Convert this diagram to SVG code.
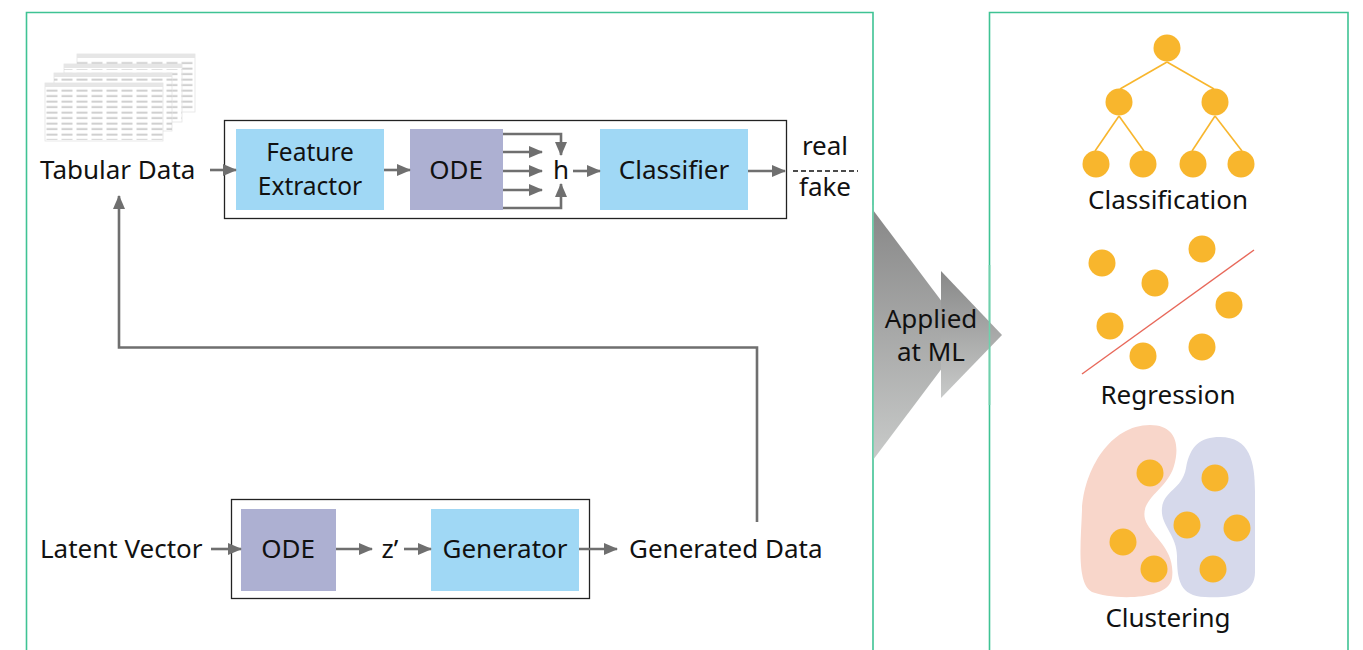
<svg xmlns="http://www.w3.org/2000/svg" width="1363" height="650" viewBox="0 0 1363 650">
  <defs>
    <style>
      .panel { fill: none; stroke: #3fc394; stroke-width: 1.6; }
      .frame { fill: none; stroke: #222; stroke-width: 1.3; }
      .blue { fill: #a0d8f5; }
      .ode { fill: #adb0d2; }
      .lbl { font-family: "Noto Sans", "Liberation Sans", sans-serif; font-size: 26px; fill: #111; }
      .two { font-size: 24.5px; }
      .mid { text-anchor: middle; }
      .wire { fill: none; stroke: #6f6f6f; stroke-width: 2.6; }
      .dot { fill: #f8b62d; }
      .branch { stroke: #f8b62d; stroke-width: 1.6; }
      .sheet { fill: #fff; stroke: #e4e4e4; stroke-width: 0.8; }
    </style>
    <marker id="head" markerWidth="14" markerHeight="12" refX="13" refY="6" orient="auto" markerUnits="userSpaceOnUse">
      <path d="M0,0 L14,6 L0,12 Z" fill="#6f6f6f"/>
    </marker>
    <linearGradient id="shade" x1="0" y1="0" x2="0" y2="1">
      <stop offset="0" stop-color="#888888"/>
      <stop offset="1" stop-color="#c8cac9"/>
    </linearGradient>
    <pattern id="cells" x="0" y="0" width="15" height="5.5" patternUnits="userSpaceOnUse">
      <rect x="1.5" y="1.6" width="11" height="2" fill="#cfcfcf"/>
    </pattern>
  </defs>

  <!-- panels -->
  <path class="panel" d="M26.5,650 V12.5 H873 V650"/>
  <path class="panel" d="M989.5,650 V12.5 H1348 V650"/>

  <!-- transfer chevrons -->
  <g id="applied">
    <polygon points="873,210 967,335 873,460" fill="url(#shade)"/>
    <polygon points="941,271 1002,335 941,398" fill="url(#shade)"/>
    <line x1="873" y1="205" x2="873" y2="470" stroke="#6fd0ac" stroke-width="1.6"/>
    <line x1="989.5" y1="265" x2="989.5" y2="405" stroke="#6fd0ac" stroke-width="1.6"/>
    <text class="lbl mid" x="931" y="328">Applied</text>
    <text class="lbl mid" x="931" y="361">at ML</text>
  </g>

  <!-- stacked table sheets -->
  <g id="tabular-data">
    <g>
      <rect class="sheet" x="77" y="54" width="118" height="58"/>
      <rect x="77" y="54" width="118" height="4" fill="#e6e6e6"/>
      <rect x="77" y="59" width="118" height="52" fill="url(#cells)"/>
    </g>
    <g>
      <rect class="sheet" x="64" y="64" width="118" height="58"/>
      <rect x="64" y="64" width="118" height="4" fill="#e6e6e6"/>
      <rect x="64" y="69" width="118" height="52" fill="url(#cells)"/>
    </g>
    <g>
      <rect class="sheet" x="54" y="73" width="118" height="58"/>
      <rect x="54" y="73" width="118" height="4" fill="#e6e6e6"/>
      <rect x="54" y="78" width="118" height="52" fill="url(#cells)"/>
    </g>
    <g>
      <rect class="sheet" x="45" y="83" width="118" height="58"/>
      <rect x="45" y="83" width="118" height="4" fill="#e6e6e6"/>
      <rect x="45" y="88" width="118" height="52" fill="url(#cells)"/>
    </g>
    <text class="lbl" x="40" y="179">Tabular Data</text>
  </g>

  <!-- discriminator -->
  <rect id="discriminator-frame" class="frame" x="224.5" y="120.5" width="562" height="98"/>
  <g id="feature-extractor">
    <rect class="blue" x="236" y="129" width="148" height="81"/>
    <text class="lbl two mid" x="310" y="161">Feature</text>
    <text class="lbl two mid" x="310" y="195">Extractor</text>
  </g>
  <g id="ode-top">
    <rect class="ode" x="410" y="129" width="93" height="81"/>
    <text class="lbl mid" x="456" y="179">ODE</text>
  </g>
  <g id="h">
    <text class="lbl mid" x="561" y="179">h</text>
  </g>
  <g id="classifier">
    <rect class="blue" x="600" y="129" width="148" height="81"/>
    <text class="lbl mid" x="674" y="179">Classifier</text>
  </g>
  <g id="real-fake">
    <text class="lbl mid" x="825" y="155">real</text>
    <line x1="793" y1="171" x2="858" y2="171" stroke="#111" stroke-width="1.4" stroke-dasharray="5,3"/>
    <text class="lbl mid" x="825" y="196">fake</text>
  </g>

  <!-- generator -->
  <rect id="generator-frame" class="frame" x="231.5" y="499.5" width="358" height="99"/>
  <g id="latent-vector">
    <text class="lbl" x="40" y="558">Latent Vector</text>
  </g>
  <g id="ode-bottom">
    <rect class="ode" x="241" y="509" width="95" height="82"/>
    <text class="lbl mid" x="288" y="558">ODE</text>
  </g>
  <g id="z-prime">
    <text class="lbl mid" x="390" y="558">z’</text>
  </g>
  <g id="generator">
    <rect class="blue" x="431" y="509" width="148" height="82"/>
    <text class="lbl mid" x="505" y="558">Generator</text>
  </g>
  <g id="generated-data">
    <text class="lbl" x="629" y="558">Generated Data</text>
  </g>

  <!-- connectors -->
  <g id="connectors">
    <line class="wire" x1="210" y1="170" x2="236" y2="170" marker-end="url(#head)"/>
    <line class="wire" x1="384" y1="170" x2="410" y2="170" marker-end="url(#head)"/>
    <path class="wire" d="M503,134 H561 V155" marker-end="url(#head)"/>
    <line class="wire" x1="503" y1="152" x2="542" y2="152" marker-end="url(#head)"/>
    <line class="wire" x1="503" y1="171" x2="542" y2="171" marker-end="url(#head)"/>
    <line class="wire" x1="503" y1="190" x2="542" y2="190" marker-end="url(#head)"/>
    <path class="wire" d="M503,208 H561 V184" marker-end="url(#head)"/>
    <line class="wire" x1="573" y1="171" x2="600" y2="171" marker-end="url(#head)"/>
    <line class="wire" x1="748" y1="171" x2="785" y2="171" marker-end="url(#head)"/>
    <line class="wire" x1="211" y1="549" x2="241" y2="549" marker-end="url(#head)"/>
    <line class="wire" x1="336" y1="549" x2="372" y2="549" marker-end="url(#head)"/>
    <line class="wire" x1="404" y1="549" x2="431" y2="549" marker-end="url(#head)"/>
    <line class="wire" x1="579" y1="549" x2="617" y2="549" marker-end="url(#head)"/>
    <path class="wire" d="M757,522 V347.5 H119 V196" marker-end="url(#head)"/>
  </g>

  <!-- classification tree -->
  <g id="classification">
    <line class="branch" x1="1167" y1="62" x2="1120" y2="89"/>
    <line class="branch" x1="1167" y1="62" x2="1214" y2="89"/>
    <line class="branch" x1="1119" y1="116" x2="1095" y2="151"/>
    <line class="branch" x1="1119" y1="116" x2="1144" y2="151"/>
    <line class="branch" x1="1215" y1="116" x2="1192" y2="151"/>
    <line class="branch" x1="1215" y1="116" x2="1242" y2="151"/>
    <circle class="dot" cx="1167" cy="48" r="13.5"/>
    <circle class="dot" cx="1119" cy="102" r="13.5"/>
    <circle class="dot" cx="1215" cy="102" r="13.5"/>
    <circle class="dot" cx="1096" cy="164" r="13.5"/>
    <circle class="dot" cx="1143" cy="164" r="13.5"/>
    <circle class="dot" cx="1193" cy="164" r="13.5"/>
    <circle class="dot" cx="1241" cy="164" r="13.5"/>
    <text class="lbl mid" x="1168" y="209">Classification</text>
  </g>

  <!-- regression -->
  <g id="regression">
    <circle class="dot" cx="1102" cy="263" r="13.5"/>
    <circle class="dot" cx="1155" cy="283" r="13.5"/>
    <circle class="dot" cx="1202" cy="249" r="13.5"/>
    <circle class="dot" cx="1229" cy="305" r="13.5"/>
    <circle class="dot" cx="1110" cy="326" r="13.5"/>
    <circle class="dot" cx="1143" cy="356" r="13.5"/>
    <circle class="dot" cx="1202" cy="347" r="13.5"/>
    <line x1="1082" y1="374" x2="1254" y2="250" stroke="#e8685a" stroke-width="1.4"/>
    <text class="lbl mid" x="1168" y="404">Regression</text>
  </g>

  <!-- clustering -->
  <g id="clustering">
    <path fill="#f8d6ca" d="M1150,425 C1176,425 1180,445 1174,466 C1167,490 1140,498 1145,519 C1150,536 1176,548 1172,578 C1169,601 1112,600 1092,592 C1076,584 1081,540 1082,510 C1084,470 1110,425 1150,425 Z"/>
    <path fill="#d6d9eb" d="M1220,437 C1250,437 1255,462 1255,492 L1255,572 C1255,596 1230,598 1205,597 C1180,596 1177,580 1177,556 C1177,535 1160,525 1162,508 C1164,490 1182,490 1186,468 C1190,446 1200,437 1220,437 Z"/>
    <circle class="dot" cx="1150" cy="473" r="13.5"/>
    <circle class="dot" cx="1123" cy="542" r="13.5"/>
    <circle class="dot" cx="1154" cy="569" r="13.5"/>
    <circle class="dot" cx="1215" cy="478" r="13.5"/>
    <circle class="dot" cx="1187" cy="525" r="13.5"/>
    <circle class="dot" cx="1237" cy="528" r="13.5"/>
    <circle class="dot" cx="1213" cy="569" r="13.5"/>
    <text class="lbl mid" x="1168" y="627">Clustering</text>
  </g>
</svg>
